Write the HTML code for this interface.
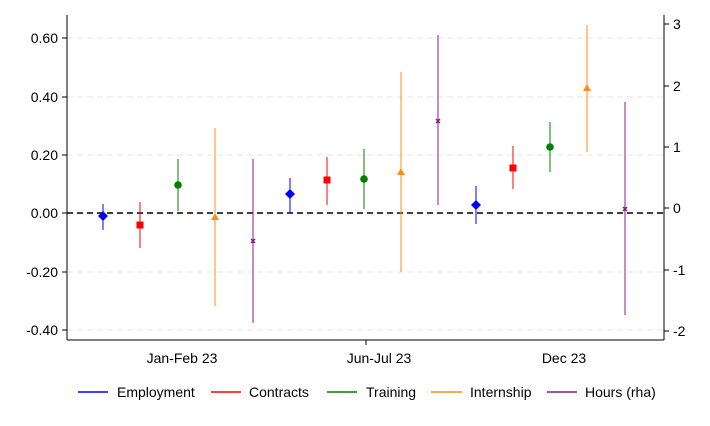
<!DOCTYPE html>
<html><head><style>body{margin:0;background:#fff}svg{display:block}text{font-family:"Liberation Sans",Arial,sans-serif;font-size:14px;fill:#000}</style></head>
<body>
<svg width="710" height="426" viewBox="0 0 710 426">
<g stroke="#e6e6e6" stroke-dasharray="6,4">
<line x1="67" x2="664" y1="38" y2="38"/><line x1="67" x2="664" y1="97" y2="97"/><line x1="67" x2="664" y1="155" y2="155"/><line x1="67" x2="664" y1="272" y2="272"/><line x1="67" x2="664" y1="330" y2="330"/>
</g>
<line x1="67" x2="664" y1="213" y2="213" stroke="#000" stroke-width="1.5" stroke-dasharray="6,4"/>
<g stroke="#000" fill="none">
<line x1="67" y1="15" x2="67" y2="340"/><line x1="664" y1="15" x2="664" y2="340"/><line x1="67" y1="340" x2="664" y2="340"/>
<line x1="62" x2="67" y1="38" y2="38"/><line x1="62" x2="67" y1="97" y2="97"/><line x1="62" x2="67" y1="155" y2="155"/><line x1="62" x2="67" y1="213" y2="213"/><line x1="62" x2="67" y1="272" y2="272"/><line x1="62" x2="67" y1="330" y2="330"/>
<line x1="664" x2="669" y1="24" y2="24"/><line x1="664" x2="669" y1="86" y2="86"/><line x1="664" x2="669" y1="147" y2="147"/><line x1="664" x2="669" y1="208" y2="208"/><line x1="664" x2="669" y1="270" y2="270"/><line x1="664" x2="669" y1="331" y2="331"/>
<line x1="366" x2="366" y1="340" y2="345"/>
</g>
<g text-anchor="end">
<text x="58" y="43">0.60</text><text x="58" y="102">0.40</text><text x="58" y="160">0.20</text><text x="58" y="218">0.00</text><text x="58" y="277">-0.20</text><text x="58" y="335">-0.40</text>
</g>
<g text-anchor="start">
<text x="673" y="29">3</text><text x="673" y="91">2</text><text x="673" y="152">1</text><text x="673" y="213">0</text><text x="673" y="275">-1</text><text x="673" y="336">-2</text>
</g>
<g text-anchor="middle">
<text x="182" y="363">Jan-Feb 23</text><text x="379" y="363">Jun-Jul 23</text><text x="564" y="363">Dec 23</text>
</g>
<!-- Employment -->
<g stroke="#0000ff" fill="#0000ff">
<line x1="103" x2="103" y1="204" y2="230"/><line x1="290" x2="290" y1="178" y2="213"/><line x1="476" x2="476" y1="186" y2="224"/>
<polygon points="103,211 108,216 103,221 98,216" stroke="none"/><polygon points="290,189 295,194 290,199 285,194" stroke="none"/><polygon points="476,200 481,205 476,210 471,205" stroke="none"/>
</g>
<g stroke="#ff0000" fill="#ff0000">
<line x1="140" x2="140" y1="202" y2="248"/><line x1="327" x2="327" y1="157" y2="205"/><line x1="513" x2="513" y1="146" y2="189"/>
<rect x="136.5" y="221.5" width="7" height="7" stroke="none"/><rect x="323.5" y="176.5" width="7" height="7" stroke="none"/><rect x="509.5" y="164.5" width="7" height="7" stroke="none"/>
</g>
<g stroke="#008000" fill="#008000">
<line x1="178" x2="178" y1="159" y2="211"/><line x1="364" x2="364" y1="149" y2="209"/><line x1="550" x2="550" y1="122" y2="172"/>
<circle cx="178" cy="185" r="3.8" stroke="none"/><circle cx="364" cy="179" r="3.8" stroke="none"/><circle cx="550" cy="147" r="3.8" stroke="none"/>
</g>
<g stroke="#ff8c1a" fill="#ff8c1a">
<line x1="215" x2="215" y1="128" y2="306"/><line x1="401" x2="401" y1="72" y2="272"/><line x1="587" x2="587" y1="25" y2="152"/>
<polygon points="215,213 219,220 211,220" stroke="none"/><polygon points="401,168 405,175 397,175" stroke="none"/><polygon points="587,84 591,91 583,91" stroke="none"/>
</g>
<g stroke="#8b1a8b" fill="none">
<line x1="253" x2="253" y1="159" y2="323"/><line x1="438" x2="438" y1="35" y2="205"/><line x1="625" x2="625" y1="102" y2="315"/>
<path d="M251,239l4,4M255,239l-4,4M436,119l4,4M440,119l-4,4M623,207l4,4M627,207l-4,4" stroke-width="1.5"/>
</g>
<g stroke-width="1.5">
<line x1="78" x2="108" y1="392" y2="392" stroke="#0000ff"/>
<line x1="211" x2="241" y1="392" y2="392" stroke="#ff0000"/>
<line x1="327" x2="357" y1="392" y2="392" stroke="#008000"/>
<line x1="431" x2="462" y1="392" y2="392" stroke="#ff8c1a"/>
<line x1="547" x2="577" y1="392" y2="392" stroke="#8b1a8b"/>
</g>
<text x="117" y="397">Employment</text><text x="249" y="397">Contracts</text><text x="366" y="397">Training</text><text x="470" y="397">Internship</text><text x="585" y="397">Hours (rha)</text>
</svg>
</body></html>
